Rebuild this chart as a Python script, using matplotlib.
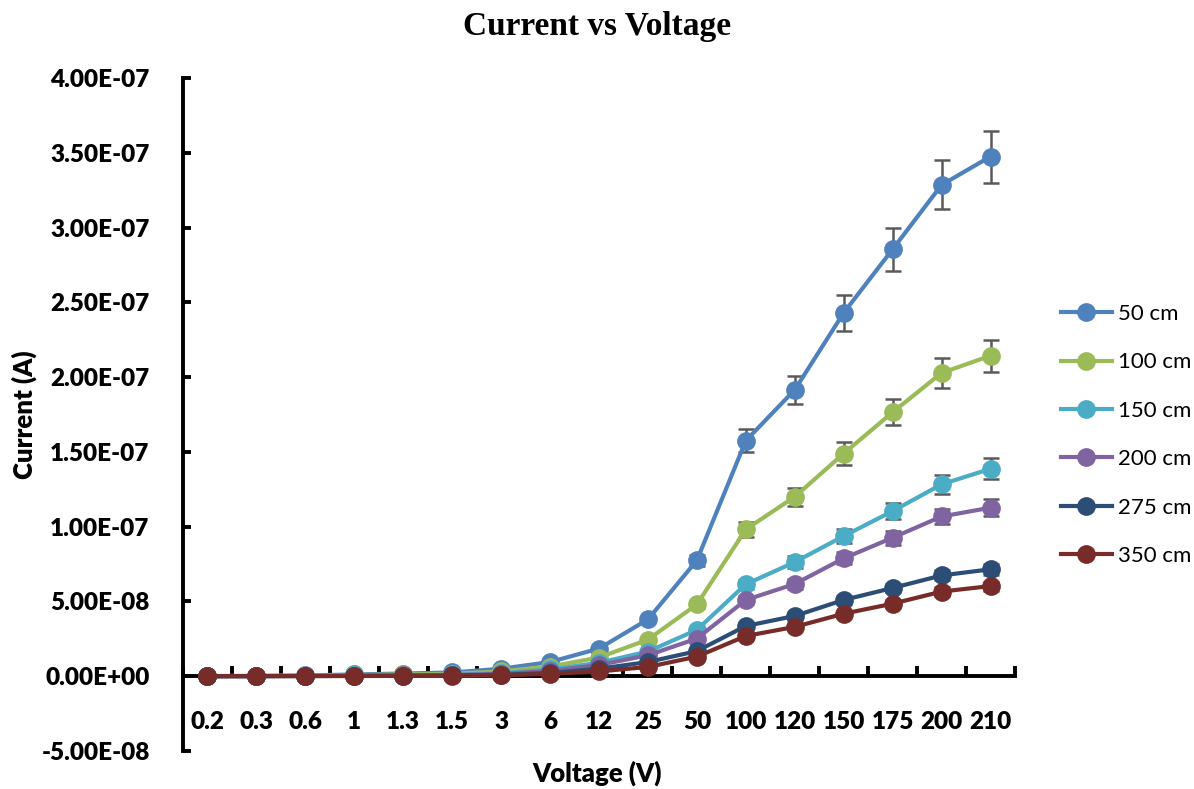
import matplotlib
matplotlib.use("Agg")
import matplotlib.pyplot as plt
from matplotlib.ticker import FixedLocator, FuncFormatter
import numpy as np

# Applied voltage steps (category axis)
voltages = ["0.2", "0.3", "0.6", "1", "1.3", "1.5", "3", "6", "12",
            "25", "50", "100", "120", "150", "175", "200", "210"]

# Measured current (A) for each electrode distance
i_50cm = [0.001e-7, 0.002e-7, 0.005e-7, 0.012e-7, 0.018e-7, 0.025e-7, 0.050e-7,
          0.095e-7, 0.185e-7, 0.380e-7, 0.775e-7, 1.575e-7, 1.915e-7, 2.430e-7,
          2.855e-7, 3.285e-7, 3.475e-7]
i_100cm = [0.001e-7, 0.002e-7, 0.004e-7, 0.008e-7, 0.012e-7, 0.016e-7, 0.032e-7,
           0.065e-7, 0.125e-7, 0.245e-7, 0.480e-7, 0.982e-7, 1.200e-7, 1.489e-7,
           1.765e-7, 2.028e-7, 2.143e-7]
i_150cm = [0.0005e-7, 0.001e-7, 0.002e-7, 0.005e-7, 0.007e-7, 0.010e-7, 0.020e-7,
           0.045e-7, 0.090e-7, 0.165e-7, 0.310e-7, 0.615e-7, 0.763e-7, 0.937e-7,
           1.104e-7, 1.283e-7, 1.387e-7]
i_200cm = [0.0005e-7, 0.001e-7, 0.002e-7, 0.004e-7, 0.006e-7, 0.008e-7, 0.016e-7,
           0.035e-7, 0.075e-7, 0.140e-7, 0.252e-7, 0.510e-7, 0.617e-7, 0.788e-7,
           0.926e-7, 1.068e-7, 1.127e-7]
i_275cm = [0.0003e-7, 0.0006e-7, 0.001e-7, 0.002e-7, 0.003e-7, 0.005e-7, 0.010e-7,
           0.022e-7, 0.050e-7, 0.095e-7, 0.168e-7, 0.336e-7, 0.403e-7, 0.510e-7,
           0.590e-7, 0.674e-7, 0.715e-7]
i_350cm = [0.0002e-7, 0.0004e-7, 0.001e-7, 0.0015e-7, 0.002e-7, 0.003e-7, 0.006e-7,
           0.016e-7, 0.032e-7, 0.062e-7, 0.131e-7, 0.269e-7, 0.330e-7, 0.418e-7,
           0.485e-7, 0.566e-7, 0.603e-7]

series_labels = ["50 cm", "100 cm", "150 cm", "200 cm", "275 cm", "350 cm"]
series_values = [i_50cm, i_100cm, i_150cm, i_200cm, i_275cm, i_350cm]
series_colors = ["#4F81BD", "#9BBB59", "#4BACC6", "#8064A2", "#2C4D75", "#772C2A"]

# Error bars: percentage of each value
error_fraction = 0.05

y_ticks = [-5e-8, 0, 5e-8, 1e-7, 1.5e-7, 2e-7, 2.5e-7, 3e-7, 3.5e-7, 4e-7]

fig = plt.figure(figsize=(11.94, 7.89), dpi=100)
ax = fig.add_axes([183 / 1194, 1 - 751 / 789, (1015 - 183) / 1194, (751 - 78) / 789])

x = np.arange(len(voltages))
for label, vals, color in zip(series_labels, series_values, series_colors):
    vals = np.asarray(vals)
    ax.errorbar(x, vals, yerr=vals * error_fraction, fmt="none",
                ecolor="#5a5a5a", elinewidth=1.8, capsize=5.5, capthick=1.8,
                zorder=2)
for label, vals, color in zip(series_labels, series_values, series_colors):
    ax.plot(x, vals, color=color, linewidth=3.0, marker="o", markersize=13.5,
            markeredgewidth=0, label=label, zorder=3)

ax.set_xlim(-0.5, len(voltages) - 0.5)
ax.set_ylim(-5e-8, 4e-7)

for side in ["top", "right"]:
    ax.spines[side].set_visible(False)
ax.spines["left"].set_linewidth(2.8)
ax.spines["bottom"].set_linewidth(2.8)
ax.spines["bottom"].set_position(("data", 0))
ax.spines["bottom"].set_zorder(1)

tick_size = 17.5
label_font = dict(family="Lato", weight="heavy", size=18.5)


def sci_label(v, pos):
    if abs(v) < 1e-20:
        return "0.00E+00"
    return f"{v:.2E}"


ax.yaxis.set_major_locator(FixedLocator(y_ticks))
ax.yaxis.set_major_formatter(FuncFormatter(sci_label))
ax.tick_params(axis="y", direction="in", length=6, width=2.8, pad=24)

ax.set_xticks(x)
ax.set_xticklabels(voltages)
ax.set_xticks(np.arange(-0.5, len(voltages)), minor=True)
ax.tick_params(axis="x", which="major", length=0, pad=25)
ax.tick_params(axis="x", which="minor", direction="in", length=7, width=2.8)

for t in ax.get_xticklabels() + ax.get_yticklabels():
    t.set_fontfamily("Lato")
    t.set_fontweight("heavy")
    t.set_fontsize(tick_size)

fig.text(597 / 1194, 1 - 27 / 789, "Current vs Voltage", ha="center", va="center",
         family="Liberation Serif", weight="bold", size=24)
fig.text(597 / 1194, 1 - 773 / 789, "Voltage (V)", ha="center", va="center",
         **label_font)
fig.text(24 / 1194, 1 - 415 / 789, "Current (A)", ha="center", va="center",
         rotation=90, **label_font)

leg = ax.legend(loc="upper left", bbox_to_anchor=(1052 / 1194, 1 - 295 / 789),
                bbox_transform=fig.transFigure, frameon=False,
                prop=dict(family="Lato", size=16), handlelength=2.3,
                handletextpad=0.25, labelspacing=1.28, borderaxespad=0)

fig.savefig("out.png", dpi=100)
